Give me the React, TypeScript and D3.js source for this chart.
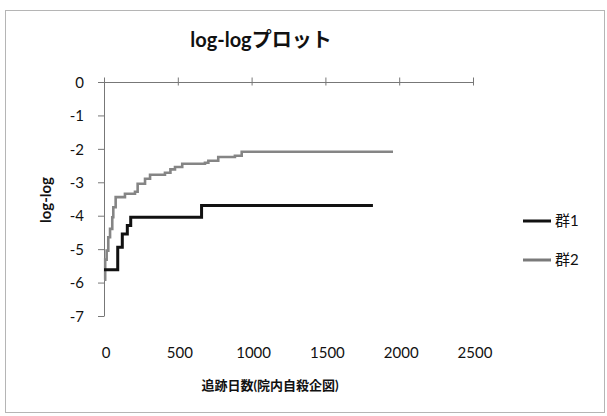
import { useEffect, useRef } from 'react'
import * as d3 from 'd3'

// step data: [days, log-log]
const group1Days = [0, 93, 124, 158, 181, 661, 1822]
const group1Vals = [-5.6, -4.93, -4.53, -4.28, -4.03, -3.68, -3.68]

const group2Days = [0, 8, 18, 29, 41, 56, 63, 79, 142, 210, 228, 278, 312, 413, 450, 481, 530, 684, 707, 774, 887, 933, 1958]
const group2Vals = [-5.9, -5.3, -5.03, -4.63, -4.38, -4.03, -3.73, -3.43, -3.33, -3.27, -3.03, -2.88, -2.76, -2.7, -2.6, -2.53, -2.43, -2.4, -2.34, -2.23, -2.19, -2.07, -2.07]

const seriesNames = ['群1', '群2']
const xTicks = [0, 500, 1000, 1500, 2000, 2500]
const yTicks = [0, -1, -2, -3, -4, -5, -6, -7]

const title = 'log-logプロット'
const xTitle = '追跡日数(院内自殺企図)'
const yTitle = 'log-log'

const FONT = "Lato, 'Noto Sans CJK JP', sans-serif"

export default function App() {
  const svgRef = useRef<SVGSVGElement>(null)

  useEffect(() => {
    if (!svgRef.current) return
    const svg = d3.select(svgRef.current)
    svg.selectAll('*').remove()

    const W = 607
    const H = 416

    svg.append('rect')
      .attr('x', 5.5).attr('y', 10.5)
      .attr('width', W - 8).attr('height', H - 14)
      .attr('fill', '#fff')
      .attr('stroke', '#b5b5b5')

    const xScale = d3.scaleLinear().domain([0, 2500]).range([104, 473])
    const yScale = d3.scaleLinear().domain([0, -7]).range([82.5, 316.5])

    // x axis on top (value 0), labels down below
    const gx = svg.append('g').attr('transform', `translate(0,${yScale(0)})`)
    gx.append('line')
      .attr('x1', xScale(0)).attr('x2', xScale(2500))
      .attr('stroke', '#777').attr('stroke-width', 1)
    gx.selectAll('line.tick')
      .data(xTicks)
      .join('line')
      .attr('class', 'tick')
      .attr('x1', d => xScale(d) + 0.5).attr('x2', d => xScale(d) + 0.5)
      .attr('y1', -5).attr('y2', 3)
      .attr('stroke', '#777')

    svg.append('g')
      .selectAll('text')
      .data(xTicks)
      .join('text')
      .attr('x', d => xScale(d) + 2)
      .attr('y', 358)
      .attr('text-anchor', 'middle')
      .attr('fill', '#111')
      .style('font-family', FONT)
      .style('font-size', '15px')
      .text(d => d3.format('d')(d))

    // y axis
    const gy = svg.append('g')
    gy.append('line')
      .attr('x1', xScale(0) + 0.5).attr('x2', xScale(0) + 0.5)
      .attr('y1', yScale(0)).attr('y2', yScale(-7))
      .attr('stroke', '#777')
    gy.selectAll('line.tick')
      .data(yTicks)
      .join('line')
      .attr('class', 'tick')
      .attr('x1', xScale(0) - 6).attr('x2', xScale(0))
      .attr('y1', d => yScale(d)).attr('y2', d => yScale(d))
      .attr('stroke', '#777')
    gy.selectAll('text')
      .data(yTicks)
      .join('text')
      .attr('x', 84)
      .attr('y', d => yScale(d))
      .attr('dy', '0.35em')
      .attr('text-anchor', 'end')
      .attr('fill', '#111')
      .style('font-family', FONT)
      .style('font-size', '15px')
      .text(d => d3.format('d')(d).replace('−', '-'))

    const line = d3.line<[number, number]>()
      .x(d => xScale(d[0]))
      .y(d => yScale(d[1]))
      .curve(d3.curveStepAfter)

    const s1 = group1Days.map((d, i) => [d, group1Vals[i]] as [number, number])
    const s2 = group2Days.map((d, i) => [d, group2Vals[i]] as [number, number])

    svg.append('path')
      .datum(s2)
      .attr('fill', 'none')
      .attr('stroke', '#858585')
      .attr('stroke-width', 2.6)
      .attr('d', line)

    svg.append('path')
      .datum(s1)
      .attr('fill', 'none')
      .attr('stroke', '#111')
      .attr('stroke-width', 3)
      .attr('d', line)

    // legend
    const colors = ['#111', '#7a7a7a']
    const legend = svg.append('g')
    seriesNames.forEach((name, i) => {
      const y = 221 + i * 39
      legend.append('line')
        .attr('x1', 523).attr('x2', 551)
        .attr('y1', y).attr('y2', y)
        .attr('stroke', colors[i])
        .attr('stroke-width', 3)
      legend.append('text')
        .attr('x', 555).attr('y', y)
        .attr('dy', '0.35em')
        .attr('fill', '#111')
        .style('font-family', FONT)
        .style('font-size', '15px')
        .text(name)
    })

    svg.append('text')
      .attr('x', 261).attr('y', 47)
      .attr('text-anchor', 'middle')
      .attr('fill', '#111')
      .style('font-family', FONT)
      .style('font-size', '20px')
      .style('font-weight', 'bold')
      .text(title)

    svg.append('text')
      .attr('x', 270).attr('y', 390)
      .attr('text-anchor', 'middle')
      .attr('fill', '#111')
      .style('font-family', FONT)
      .style('font-size', '13px')
      .style('font-weight', 'bold')
      .text(xTitle)

    svg.append('text')
      .attr('transform', 'rotate(-90)')
      .attr('x', -200).attr('y', 51)
      .attr('text-anchor', 'middle')
      .attr('fill', '#111')
      .style('font-family', FONT)
      .style('font-size', '15px')
      .style('font-weight', 'bold')
      .text(yTitle)
  }, [])

  return (
    <svg
      ref={svgRef}
      width={607}
      height={416}
      style={{ position: 'absolute', left: 0, top: 0, background: '#fff' }}
    />
  )
}
